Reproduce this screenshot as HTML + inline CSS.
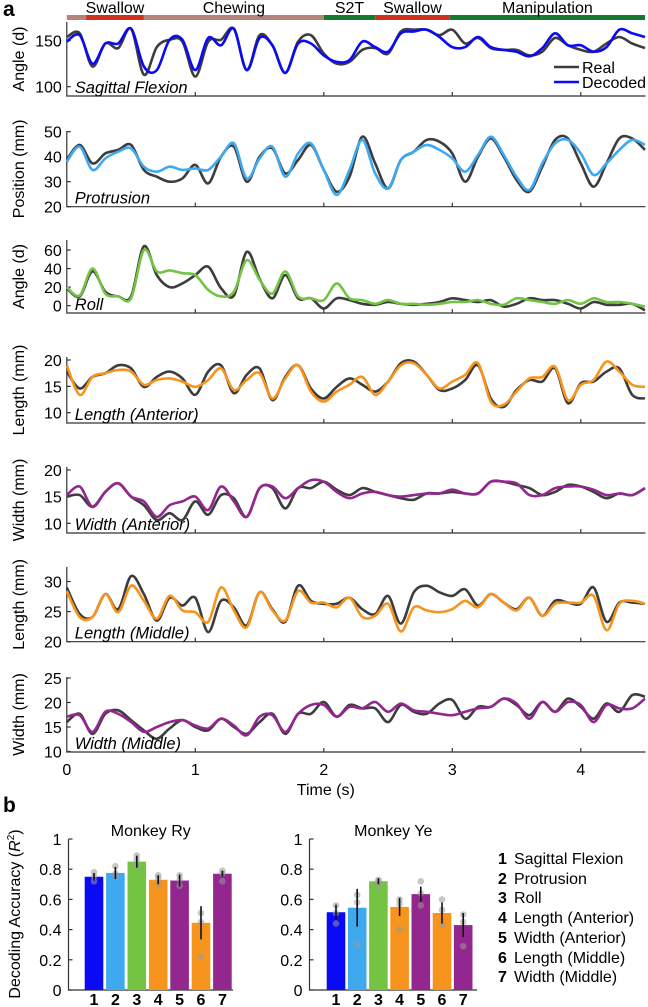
<!DOCTYPE html>
<html><head><meta charset="utf-8"><style>
html,body{margin:0;padding:0;background:#fff;}
svg{display:block;font-family:"Liberation Sans",Arial,sans-serif;}
</style></head><body>
<svg id="fig" width="648" height="1007" viewBox="0 0 648 1007" xmlns="http://www.w3.org/2000/svg">
<text x="3" y="16" font-size="21" font-weight="bold">a</text>
<text x="3" y="812" font-size="21" font-weight="bold">b</text>
<g id="phases"></g>
<g id="ts"></g>
<g id="bars"></g>
<g font-size="16">
<text x="498" y="864" font-weight="bold">1</text><text x="514" y="864">Sagittal Flexion</text>
<text x="498" y="884" font-weight="bold">2</text><text x="514" y="884">Protrusion</text>
<text x="498" y="903" font-weight="bold">3</text><text x="514" y="903">Roll</text>
<text x="498" y="923" font-weight="bold">4</text><text x="514" y="923">Length (Anterior)</text>
<text x="498" y="943" font-weight="bold">5</text><text x="514" y="943">Width (Anterior)</text>
<text x="498" y="963" font-weight="bold">6</text><text x="514" y="963">Length (Middle)</text>
<text x="498" y="982" font-weight="bold">7</text><text x="514" y="982">Width (Middle)</text>
</g>
</svg>
<script>
const times = [0,0.1,0.2,0.3,0.4,0.5,0.6,0.7,0.8,0.9,1.0,1.1,1.2,1.3,1.4,1.5,1.6,1.7,1.8,1.9,2.0,2.1,2.2,2.3,2.4,2.5,2.6,2.7,2.8,2.9,3.0,3.1,3.2,3.3,3.4,3.5,3.6,3.7,3.8,3.9,4.0,4.1,4.2,4.3,4.4,4.5];
const timeTicks = [0,1,2,3,4];
const sagReal = [154,158,122,147,142,163,113,143,151,149,111,149,151,163,118,156,145,115,149,156,136,125,127,140,142,136,160,162,162,156,162,147,153,142,140,140,134,138,153,145,140,138,147,154,147,142];
const sagDec = [149,156,125,147,147,163,122,118,151,151,118,153,145,163,118,153,145,115,147,147,134,127,129,149,143,138,158,160,162,154,143,143,154,143,140,138,133,142,158,145,145,138,143,162,158,154];
const proReal = [38.7,44.7,37.3,41.3,42.7,44.7,34.7,32,30,31.3,36.7,29.3,40,44,30,40,43.3,33.3,38.7,44.7,34.7,26,32,48,37.3,27.3,38.7,42,46.7,46,41.3,30,40,47.3,40,30.7,26,36,46.7,47.3,37.3,28,37.3,47.3,47.3,42.7];
const proDec = [38,44,34.7,39.3,42,43.3,36,34,36,34.7,35.3,34.7,40,45.3,31.3,39.3,44,32,41.3,45.3,34.7,24.7,34.7,46.7,33.3,27.3,38.7,42,44.7,42.7,39.3,34,40.7,48,40.7,32,26.7,37.3,45.3,46.7,41.3,32.7,37.3,42.7,46.7,44.7];
const rollReal = [19,10,37,15,10,10,64,33,20,24,33,42,19,11,58,29,8,33,8,8,-3,8,6,2,1,4,2,1,2,4,8,6,4,6,-1,2,8,6,6,2,-3,4,1,1,2,-5];
const rollDec = [20,11,40,13,10,8,60,37,38,35,33,17,10,15,49,28,13,37,10,8,6,24,8,6,2,6,2,2,1,2,4,4,6,2,1,8,6,4,2,6,2,8,4,4,2,-1];
const laReal = [17.8,14.6,16.8,17.5,19,18.4,14.9,16.8,17.8,16.5,13.4,17.8,19,13.7,17.2,18.4,12.4,16.8,19,14.6,12.7,14.9,16.5,15.3,14,15.9,19.4,19.7,17.2,14.3,14.6,16.2,19,12.7,11.1,14.3,16.2,15.9,18.4,11.8,15.6,15.9,17.8,18.4,13.4,12.7];
const laDec = [19,13.4,16.8,17.5,18.1,17.8,15.3,16.2,16.5,15.9,14.9,16.2,18.4,14.3,16.2,17.5,12.7,16.5,19,14,12.1,14,15.3,16.8,13.4,15.9,19,19.4,17.2,14.6,15.9,17.2,19.4,12.1,11.5,14,16.5,16.8,18.7,12.4,15.3,16.2,19.7,17.8,15.3,14.9];
const waReal = [15,15.3,13.1,15.9,17.5,15,13.4,10.6,11.9,10.6,14.1,11.6,15.3,14.7,11.2,16.6,16.6,12.8,16.6,16.6,17.8,16.3,15.3,16.6,15.9,15.3,14.7,14.4,15.6,15.6,15.9,15.6,15.6,17.8,17.8,17.2,16.6,15.3,15.9,17.2,16.9,15.9,14.7,15.6,15.3,16.6];
const waDec = [15.3,16.9,13.1,15.9,17.5,15,14.1,11.2,13.4,14.1,15,12.5,16.9,14.1,11.2,16.6,16.9,14.7,16.6,18.1,17.8,15.9,14.7,15.6,15.9,15.3,15,15.3,15.6,15.6,16.3,15.6,15.6,17.8,17.8,17.5,15.3,15.3,16.6,16.9,16.9,16.3,15.3,15.6,15.3,16.6];
const lmReal = [29,24.6,24.1,27.9,25.4,30.9,27.9,23.5,27.3,26,27.3,21.6,26.8,25.7,22.7,28.2,25.4,23.3,29.3,26.8,26.3,26.3,27.3,25.4,24.6,27.6,23,28.2,29.3,28.2,27.6,28.7,26,27.9,26.5,25.4,27.3,24.3,26.8,26.5,26.3,29,23.3,26.5,26.5,26.3];
const lmDec = [28.4,24.1,24.1,27.9,24.9,29.3,26.8,23.8,27.6,25.2,24.9,23.3,29,25.2,22.4,28.2,25.2,23.5,28.4,26.5,26.5,25.7,27.3,24.1,24.3,26.3,21.7,25.7,25.2,24.9,25.4,26.8,25.7,27.9,26.5,25.2,27.3,24.3,26.3,26.5,26.5,27.6,21.9,26.3,26.8,26.3];
const wmReal = [16,17.7,13.6,17.7,18.4,16.4,14.3,12.6,14.7,16.4,15,14.3,16.7,15,13.6,16,17.7,13.6,17.7,17.7,20.1,17.1,19.5,18.8,18.8,16,19.5,18.1,17.7,19.8,20.5,16.7,19.1,19.1,20.8,19.5,17.4,20.1,18.1,20.8,19.1,16.7,19.8,18.1,21.5,21.2];
const wmDec = [17.1,17.4,14,18.1,17.7,16,14,15,16,16.4,15.3,14.7,16.7,15.3,13.3,17.1,17.4,14,17.7,19.5,19.5,17.1,19.1,18.8,20.1,18.1,19.8,18.4,18.1,17.7,17.4,18.1,18.8,19.1,20.8,19.8,16.7,20.1,18.1,20.1,19.5,16,19.5,18.8,18.8,20.8];

const phaseNames = ["","Swallow","Chewing","S2T","Swallow","Manipulation"];
const phaseStarts = [0,0.15,0.6,2.0,2.4,2.98];
const phaseEnds = [0.15,0.6,2.0,2.4,2.98,4.5];
const phaseColors = ["#b3847a","#d0311f","#b3847a","#157a30","#d0311f","#157a30"];

const barCats = ["1","2","3","4","5","6","7"];
const ryVals = [0.75,0.775,0.85,0.73,0.725,0.445,0.77];
const ryErr = [0.025,0.04,0.04,0.03,0.04,0.11,0.02];
const ryPts = [[0.78,0.75,0.72],[0.82,0.77,0.75],[0.89,0.86,0.82],[0.76,0.74,0.70],[0.76,0.73,0.69],[0.51,0.45,0.22],[0.79,0.77,0.72]];
const yeVals = [0.515,0.545,0.72,0.55,0.635,0.51,0.43];
const yeErr = [0.05,0.125,0.02,0.06,0.05,0.07,0.08];
const yePts = [[0.56,0.51,0.44],[0.63,0.58,0.30],[0.73,0.72,0.69],[0.60,0.57,0.40],[0.72,0.64,0.56],[0.60,0.53,0.43],[0.50,0.45,0.29]];
const barTicks = [0,0.2,0.4,0.6,0.8,1];
const barColors = ["#0a0af5","#3fa9f0","#74c443","#f7941d","#93278f","#f7941d","#93278f"];

const NS="http://www.w3.org/2000/svg";
function mk(tag,attrs,parent,text){const e=document.createElementNS(NS,tag);for(const k in attrs)e.setAttribute(k,attrs[k]);if(text!==undefined)e.textContent=text;parent.appendChild(e);return e;}
const X0=66.8, PX=128.5;
function tx(t){return X0+t*PX;}
const FS=16;

const ph=document.getElementById('phases');
for(let i=0;i<phaseStarts.length;i++){
  const r=mk('rect',{x:tx(phaseStarts[i]),y:15,width:tx(phaseEnds[i])-tx(phaseStarts[i]),height:5,fill:phaseColors[i]},ph);
  
  
  if(phaseNames[i]){
    const t=mk('text',{x:(tx(phaseStarts[i])+tx(phaseEnds[i]))/2,y:13,'font-size':16,'text-anchor':'middle'},ph,phaseNames[i]);
    
    
  }
}

function smooth(pts){
  let d="M"+pts[0][0].toFixed(1)+","+pts[0][1].toFixed(1);
  for(let i=0;i<pts.length-1;i++){
    const p0=pts[Math.max(0,i-1)],p1=pts[i],p2=pts[i+1],p3=pts[Math.min(pts.length-1,i+2)];
    const c1=[p1[0]+(p2[0]-p0[0])/6,p1[1]+(p2[1]-p0[1])/6];
    const c2=[p2[0]-(p3[0]-p1[0])/6,p2[1]-(p3[1]-p1[1])/6];
    d+="C"+c1[0].toFixed(1)+","+c1[1].toFixed(1)+" "+c2[0].toFixed(1)+","+c2[1].toFixed(1)+" "+p2[0].toFixed(1)+","+p2[1].toFixed(1);
  }
  return d;
}

const panels=[
 {name:"sagittal-flexion",ylab:"Angle (d)",lab:"Sagittal Flexion",real:sagReal,dec:sagDec,col:"#0a0af5",v1:150,y1:40.7,v2:100,y2:86.7,top:22,bot:96,ticks:[100,150]},
 {name:"protrusion",ylab:"Position (mm)",lab:"Protrusion",real:proReal,dec:proDec,col:"#3fa9f0",v1:50,y1:131.7,v2:30,y2:181.7,top:131,bot:206.7,ticks:[20,30,40,50]},
 {name:"roll",ylab:"Angle (d)",lab:"Roll",real:rollReal,dec:rollDec,col:"#74c443",v1:60,y1:250,v2:0,y2:305.7,top:240,bot:313,ticks:[0,20,40,60]},
 {name:"length-anterior",ylab:"Length (mm)",lab:"Length (Anterior)",real:laReal,dec:laDec,col:"#f7941d",v1:20,y1:360,v2:10,y2:412.7,top:357,bot:423,ticks:[10,15,20]},
 {name:"width-anterior",ylab:"Width (mm)",lab:"Width (Anterior)",real:waReal,dec:waDec,col:"#93278f",v1:20,y1:470,v2:10,y2:523.3,top:467,bot:533,ticks:[10,15,20]},
 {name:"length-middle",ylab:"Length (mm)",lab:"Length (Middle)",real:lmReal,dec:lmDec,col:"#f7941d",v1:30,y1:581.5,v2:20,y2:641.7,top:567,bot:641.7,ticks:[20,25,30]},
 {name:"width-middle",ylab:"Width (mm)",lab:"Width (Middle)",real:wmReal,dec:wmDec,col:"#93278f",v1:20,y1:702.5,v2:15,y2:727,top:677,bot:752,ticks:[10,15,20,25]}
];
const ts=document.getElementById('ts');
panels.forEach((p,pi)=>{
  const g=mk('g',{},ts);
  
  
  const vy=v=>p.y1+(v-p.v1)*(p.y2-p.y1)/(p.v2-p.v1);
  mk('path',{d:`M${X0},${p.top}V${p.bot}H645.5`,fill:'none',stroke:'#333','stroke-width':1.2},g);
  p.ticks.forEach(v=>{
    const y=vy(v);
    mk('line',{x1:X0,x2:X0+4,y1:y,y2:y,stroke:'#333','stroke-width':1.2},g);
    const t=mk('text',{x:X0-5,y:y+6,'font-size':FS,'text-anchor':'end'},g,String(v));
    
    
  });
  timeTicks.forEach(tt=>{ if(tt>0) mk('line',{x1:tx(tt),x2:tx(tt),y1:p.bot,y2:p.bot-4,stroke:'#333','stroke-width':1.2},g);});
  const cy=(p.top+p.bot)/2;
  const yl=mk('text',{x:0,y:0,'font-size':FS,'text-anchor':'middle',transform:`translate(24,${cy}) rotate(-90)`},g,p.ylab);
  
  
  const rl=mk('path',{d:smooth(p.real.map((v,i)=>[tx(times[i]),vy(v)])),fill:'none',stroke:'#3d3d3d','stroke-width':2.6,'stroke-linejoin':'round'},g);
  
  
  const dl=mk('path',{d:smooth(p.dec.map((v,i)=>[tx(times[i]),vy(v)])),fill:'none',stroke:p.col,'stroke-width':2.6,'stroke-linejoin':'round'},g);
  
  
  const il=mk('text',{x:X0+8,y:p.bot-3,'font-size':16.5,'font-style':'italic'},g,p.lab);
  
  
});
const lg=mk('g',{},ts);


mk('line',{x1:554,x2:579,y1:67,y2:67,stroke:'#3d3d3d','stroke-width':2.6},lg);
mk('text',{x:582,y:73,'font-size':FS},lg,'Real');
mk('line',{x1:554,x2:579,y1:82,y2:82,stroke:'#0a0af5','stroke-width':2.6},lg);
mk('text',{x:582,y:88,'font-size':FS},lg,'Decoded');
timeTicks.forEach(tt=>{
  const t=mk('text',{x:tx(tt),y:775,'font-size':FS,'text-anchor':'middle'},ts,String(tt));
  
  
});
const xt=mk('text',{x:tx(2)+2,y:795,'font-size':FS,'text-anchor':'middle'},ts,'Time (s)');



const bars=document.getElementById('bars');
const BY0=990, BY1=839;
function by(v){return BY0+(BY1-BY0)*v;}
function barChart(name,title,vals,errs,pts,ax,x1,step,right){
  const g=mk('g',{},bars);
  
  
  mk('path',{d:`M${ax},${BY1}V${BY0}H${right}`,fill:'none',stroke:'#333','stroke-width':1.2},g);
  barTicks.forEach(v=>{
    mk('line',{x1:ax,x2:ax+4,y1:by(v),y2:by(v),stroke:'#333','stroke-width':1.2},g);
    const t=mk('text',{x:ax-7,y:by(v)+6,'font-size':FS,'text-anchor':'end'},g,String(v));
    
    
  });
  const tt=mk('text',{x:(ax+right)/2,y:836,'font-size':FS,'text-anchor':'middle'},g,title);
  
  
  vals.forEach((v,i)=>{
    const cx=x1+i*step;
    const r=mk('rect',{x:cx-9.3,y:by(v),width:18.6,height:BY0-by(v),fill:barColors[i]},g);
    
    
    pts[i].forEach(pv=>mk('circle',{cx:cx,cy:by(pv),r:3.3,fill:'#999','fill-opacity':0.55},g));
    mk('line',{x1:cx,x2:cx,y1:by(v+errs[i]),y2:by(v-errs[i]),stroke:'#111','stroke-width':1.6},g);
    const l=mk('text',{x:cx,y:1005,'font-size':FS,'font-weight':'bold','text-anchor':'middle'},g,barCats[i]);
    
    
  });
}
barChart('monkey-ry-chart','Monkey Ry',ryVals,ryErr,ryPts,68.5,94,21.4,233);
barChart('monkey-ye-chart','Monkey Ye',yeVals,yeErr,yePts,309.5,336,21.2,477);
const yl=mk('text',{x:0,y:0,'font-size':FS,'text-anchor':'middle',transform:'translate(20,914) rotate(-90)'},bars,'');


mk('tspan',{},yl,'Decoding Accuracy (');
mk('tspan',{'font-style':'italic'},yl,'R');
mk('tspan',{'font-size':10,dy:-6},yl,'2');
mk('tspan',{dy:6},yl,')');
</script>
</body></html>
